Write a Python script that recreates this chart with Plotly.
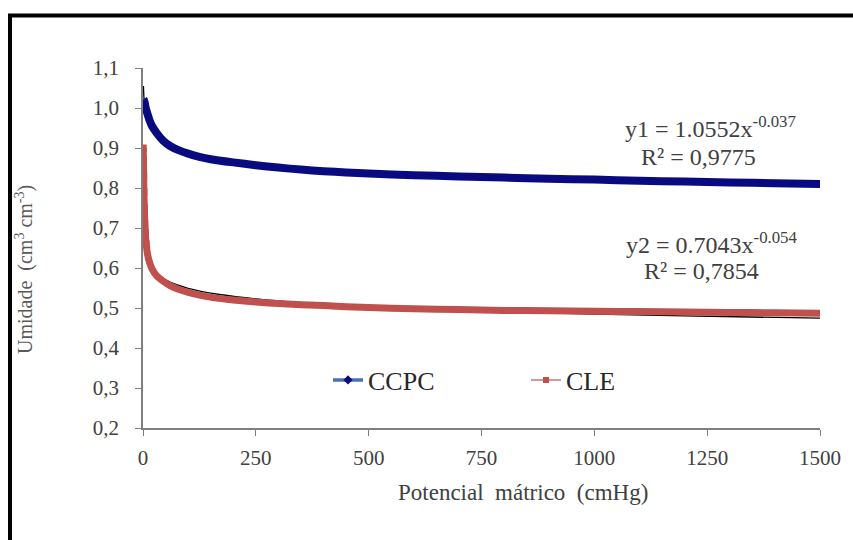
import plotly.graph_objects as go

# ---- data ----
ccpc_x = [1, 2, 4, 6, 10, 15, 20, 30, 45, 60, 80, 100, 125, 150, 200, 250, 300, 350,
          400, 450, 500, 600, 700, 800, 900, 1000, 1100, 1200, 1300, 1400, 1500]
ccpc_y = [1.022, 1.02, 1.012, 1.0, 0.985, 0.968, 0.955, 0.938, 0.918, 0.905, 0.894,
          0.886, 0.878, 0.872, 0.864, 0.857, 0.851, 0.846, 0.842, 0.839, 0.836, 0.832,
          0.829, 0.826, 0.823, 0.821, 0.818, 0.816, 0.814, 0.812, 0.810]

cle_x = [0.5, 1, 1.5, 2, 3, 4, 5, 7, 10, 15, 20, 30, 45, 60, 80, 100, 125, 155, 200,
         250, 300, 400, 500, 600, 700, 800, 900, 1000, 1100, 1200, 1300, 1400, 1500]
cle_y = [0.90, 0.87, 0.83, 0.79, 0.75, 0.71, 0.69, 0.66, 0.635, 0.612, 0.598, 0.581,
         0.567, 0.556, 0.546, 0.539, 0.532, 0.526, 0.520, 0.515, 0.511, 0.506, 0.501,
         0.498, 0.496, 0.494, 0.493, 0.492, 0.491, 0.490, 0.489, 0.488, 0.487]

# power trendlines as printed on the chart
trend1_a, trend1_b = 1.0552, -0.037
trend2_a, trend2_b = 0.7043, -0.054
trend_x = [1, 1.5, 2, 3, 5, 8, 12, 20, 35, 60, 100, 170, 300, 500, 800, 1200, 1500]

y_tickvals = [0.2, 0.3, 0.4, 0.5, 0.6, 0.7, 0.8, 0.9, 1.0, 1.1]
y_ticktext = ["0,2", "0,3", "0,4", "0,5", "0,6", "0,7", "0,8", "0,9", "1,0", "1,1"]
x_tickvals = [0, 250, 500, 750, 1000, 1250, 1500]
x_ticktext = ["0", "250", "500", "750", "1000", "1250", "1500"]

series_names = ["CCPC", "CLE"]

FONT = "Liberation Serif"
NAVY = "#0a0a80"
RED = "#c0504d"

fig = go.Figure()

# trendlines (drawn beneath the data bands)
t1 = [trend1_a * x ** trend1_b for x in trend_x]
t2 = [trend2_a * x ** trend2_b for x in trend_x]
fig.add_trace(go.Scatter(x=trend_x, y=t1, mode="lines", line=dict(color="black", width=1.3),
                         line_shape="spline", showlegend=False, hoverinfo="skip"))
fig.add_trace(go.Scatter(x=trend_x, y=t2, mode="lines", line=dict(color="black", width=1.3),
                         line_shape="spline", showlegend=False, hoverinfo="skip"))

# data bands
fig.add_trace(go.Scatter(x=ccpc_x, y=ccpc_y, mode="lines",
                         line=dict(color=NAVY, width=8, shape="spline", smoothing=0.6),
                         showlegend=False, hoverinfo="skip"))
fig.add_trace(go.Scatter(x=cle_x, y=cle_y, mode="lines",
                         line=dict(color=RED, width=7, shape="spline", smoothing=0.6),
                         showlegend=False, hoverinfo="skip"))
fig.add_trace(go.Scatter(x=cle_x[:8], y=cle_y[:8], mode="markers",
                         marker=dict(symbol="square", size=7, color=RED),
                         showlegend=False, hoverinfo="skip"))

# legend entries
fig.add_trace(go.Scatter(x=[None], y=[None], mode="lines+markers", name=series_names[0],
                         line=dict(color="#4a72b0", width=3.5),
                         marker=dict(symbol="diamond", size=7, color=NAVY)))
fig.add_trace(go.Scatter(x=[None], y=[None], mode="lines+markers", name=series_names[1],
                         line=dict(color="#d0707a", width=1.5),
                         marker=dict(symbol="square", size=6, color=RED)))

L, R, T, B = 143, 33, 68, 112
W, H = 853, 540
pw, ph = W - L - R, H - T - B

def px(xp):
    return (xp - L) / pw

def py(yp):
    return (H - B - yp) / ph

axis_col = "#7f7f7f"
tick_font = dict(family=FONT, size=21, color="#404040")
fig.update_xaxes(range=[0, 1500], tickvals=x_tickvals, ticktext=x_ticktext,
                 showgrid=False, zeroline=False, showline=True, linecolor=axis_col,
                 linewidth=1.5, ticks="outside", ticklen=6, tickcolor=axis_col,
                 tickfont=tick_font, ticklabelstandoff=4)
fig.update_yaxes(range=[0.2, 1.1], tickvals=y_tickvals, ticktext=y_ticktext,
                 showgrid=False, zeroline=False, showline=True, linecolor=axis_col,
                 linewidth=1.5, ticks="outside", ticklen=6, tickcolor=axis_col,
                 tickfont=tick_font, ticklabelstandoff=12)

ann_font = dict(family=FONT, size=24, color="#404040")
annotations = [
    dict(x=px(710), y=py(127), text="y1 = 1.0552x<sup>-0.037</sup>"),
    dict(x=px(698), y=py(157), text="R² = 0,9775"),
    dict(x=px(712), y=py(243), text="y2 = 0.7043x<sup>-0.054</sup>"),
    dict(x=px(701), y=py(271), text="R² = 0,7854"),
]
for a in annotations:
    a.update(xref="paper", yref="paper", showarrow=False, font=ann_font,
             xanchor="center", yanchor="middle")

annotations.append(dict(x=px(523), y=py(492), xref="paper", yref="paper",
                        text="Potencial  mátrico  (cmHg)", showarrow=False,
                        font=dict(family=FONT, size=23, color="#404040"),
                        xanchor="center", yanchor="middle"))
annotations.append(dict(x=px(24), y=py(270), xref="paper", yref="paper",
                        text="Umidade  (cm<sup>3</sup> cm<sup>-3</sup>)", showarrow=False,
                        textangle=-90,
                        font=dict(family=FONT, size=20, color="#595959"),
                        xanchor="center", yanchor="middle"))

shapes = [
    dict(type="line", xref="paper", yref="paper", x0=px(8), x1=px(860),
         y0=py(15.5), y1=py(15.5), line=dict(color="black", width=4)),
    dict(type="line", xref="paper", yref="paper", x0=px(10), x1=px(10),
         y0=py(14), y1=py(545), line=dict(color="black", width=4)),
]

fig.update_layout(
    width=W, height=H,
    margin=dict(l=L, r=R, t=T, b=B),
    paper_bgcolor="white", plot_bgcolor="white",
    annotations=annotations, shapes=shapes,
    legend=dict(orientation="h", x=px(328), y=py(380), xanchor="left", yanchor="middle",
                font=dict(family=FONT, size=26, color="#262626"),
                entrywidth=153, entrywidthmode="pixels",
                bgcolor="rgba(0,0,0,0)"),
    font=dict(family=FONT),
)

fig.write_html("out.html")
